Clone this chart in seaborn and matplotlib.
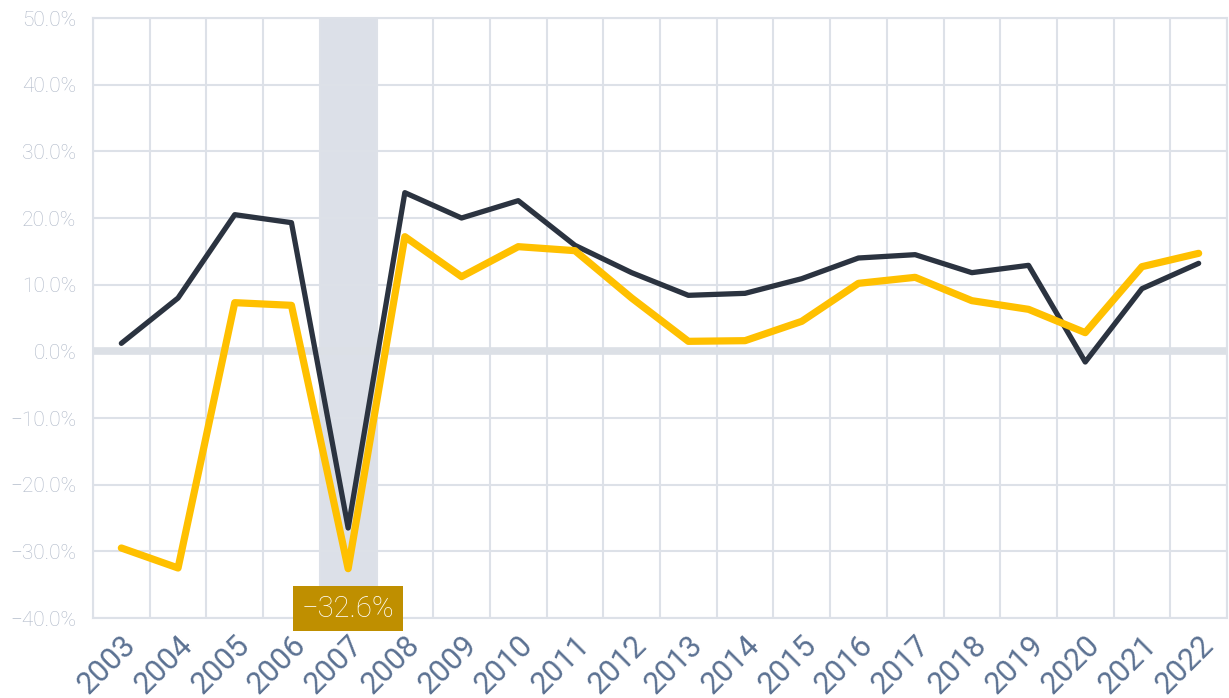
import numpy as np
import pandas as pd
import seaborn as sns
import matplotlib.pyplot as plt
from matplotlib.ticker import FuncFormatter, MultipleLocator

# Données
years = [str(y) for y in range(2003, 2023)]
dark_values = [1.2, 8.0, 20.5, 19.3, -26.5, 23.8, 20.0, 22.6, 15.9, 11.8,
               8.4, 8.7, 10.9, 14.0, 14.5, 11.8, 12.9, -1.6, 9.4, 13.2]
gold_values = [-29.5, -32.5, 7.3, 6.9, -32.6, 17.2, 11.2, 15.7, 15.1, 8.0,
               1.5, 1.6, 4.5, 10.2, 11.1, 7.6, 6.3, 2.8, 12.7, 14.7]
highlight_year = "2007"
highlight_label = "−32.6%"

df = pd.DataFrame({
    "pos": list(range(len(years))) * 2,
    "value": dark_values + gold_values,
    "series": ["dark"] * len(years) + ["gold"] * len(years),
})

sns.set_style("white")
plt.rcParams['font.family'] = ['Roboto', 'DejaVu Sans']

fig = plt.figure(figsize=(12.29, 6.98), dpi=100)
ax = fig.add_axes([93 / 1229, 1 - 618 / 698, (1227 - 93) / 1229, 600 / 698])

grid_col = "#DDE1E8"
hi = years.index(highlight_year)
ax.axvspan(hi - 0.5, hi + 0.5, color="#DCE0E8", zorder=0.5, lw=0)
ax.axhline(0, color="#DCE0E6", lw=5.5, zorder=1)

sns.lineplot(data=df[df.series == "dark"], x="pos", y="value", ax=ax,
             color="#2B3340", lw=3.8, zorder=3, legend=False)
sns.lineplot(data=df[df.series == "gold"], x="pos", y="value", ax=ax,
             color="#FFC000", lw=5.2, zorder=4, legend=False)
for line in ax.lines:
    line.set_solid_joinstyle("round")
    line.set_solid_capstyle("round")

ax.set_xlim(-0.5, len(years) - 0.5)
ax.set_ylim(-40, 50)
ax.yaxis.set_major_locator(MultipleLocator(10))
ax.yaxis.set_major_formatter(FuncFormatter(lambda v, p: f"{v:.1f}%".replace("-", "−")))
ax.set_xticks(range(len(years)))
ax.set_xticklabels(years)
ax.set_xticks(np.arange(-0.5, len(years), 1), minor=True)

ax.grid(False)
ax.grid(axis="x", which="minor", color=grid_col, lw=1.5, zorder=0)
ax.grid(axis="y", which="major", color=grid_col, lw=1.5, zorder=0)
for s in ax.spines.values():
    s.set_color(grid_col)
    s.set_linewidth(1.5)

ax.tick_params(axis="both", which="both", length=0)
ax.tick_params(axis="y", pad=12, labelsize=15, labelcolor="#AEB7C7")
ax.tick_params(axis="x", pad=9, labelsize=22, labelcolor="#5B7192")
for lab in ax.get_yticklabels():
    lab.set_fontweight("light")
for lab in ax.get_xticklabels():
    lab.set_rotation(45)
    lab.set_ha("right")
    lab.set_rotation_mode("anchor")
    lab.set_fontweight("normal")

ax.set_xlabel("")
ax.set_ylabel("")

ax.text(hi, -38.6, highlight_label, ha="center", va="center", fontsize=21,
        color="white", fontweight="light", zorder=6, clip_on=False,
        bbox=dict(boxstyle="square,pad=0.3", fc="#BF8F00", ec="none"))

fig.savefig("out.png", dpi=100)
